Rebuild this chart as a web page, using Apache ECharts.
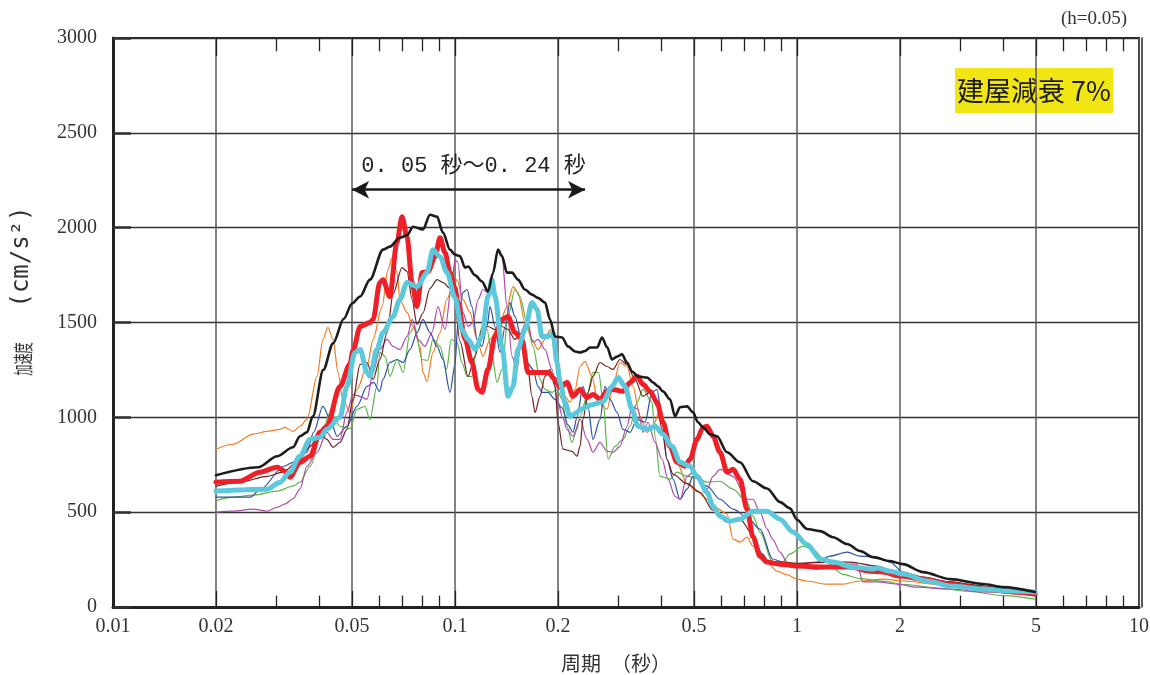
<!DOCTYPE html>
<html>
<head>
<meta charset="utf-8">
<script src="https://cdn.jsdelivr.net/npm/echarts@6/dist/echarts.min.js"></script>
<style>html,body{margin:0;padding:0;background:#fff}#c{width:1150px;height:675px}</style>
</head>
<body>
<div id="c"></div>
<script>
// ---- axis ticks / labels (period in seconds) ----
const gridPeriods = [0.02, 0.05, 0.2, 0.5, 2, 5];          // labelled gridlines between decades
const majorTicks  = [0.02, 0.05, 0.1, 0.2, 0.5, 1, 2, 5];
const minorTicks  = [0.03,0.04,0.06,0.07,0.08,0.09,0.3,0.4,0.6,0.7,0.8,0.9,3,4,6,7,8,9];
const yTicks = {min: 0, max: 3000, step: 500};
const bandFrom = 0.05, bandTo = 0.24, bandLevel = 2200;

// ---- spectra: [period (s), acceleration (cm/s2)] ----
const black = [[0.02,695],[0.0266,737],[0.0302,795],[0.0336,842],[0.0352,900],[0.0369,921],[0.0384,1005],[0.0412,1250],[0.0440,1390],[0.0473,1520],[0.0500,1600],[0.0528,1637],[0.0564,1726],[0.0616,1884],[0.0645,1900],[0.0690,1947],[0.0724,1960],[0.0754,2005],[0.0806,1990],[0.0845,2068],[0.0886,2058],[0.0922,1974],[0.0967,1884],[0.1000,1858],[0.1034,1850],[0.1070,1790],[0.1092,1795],[0.1144,1750],[0.1199,1716],[0.1249,1663],[0.1291,1760],[0.1336,1884],[0.1372,1850],[0.1419,1763],[0.1468,1763],[0.1528,1726],[0.1602,1674],[0.1679,1647],[0.1748,1630],[0.1833,1605],[0.1896,1516],[0.1961,1426],[0.2056,1421],[0.2140,1374],[0.2244,1347],[0.2321,1342],[0.2400,1350],[0.2482,1368],[0.2602,1368],[0.2691,1421],[0.2783,1370],[0.2879,1305],[0.2977,1320],[0.3078,1332],[0.3184,1289],[0.3293,1242],[0.3428,1216],[0.3642,1210],[0.3793,1184],[0.3923,1163],[0.4057,1137],[0.4253,1095],[0.4399,1005],[0.4550,1053],[0.4769,1058],[0.4966,1026],[0.5135,974],[0.5311,947],[0.5566,911],[0.5834,900],[0.6242,816],[0.6813,763],[0.7435,663],[0.8173,625],[0.8921,553],[0.9539,520],[1.0,460],[1.07,411],[1.168,400],[1.275,368],[1.401,332],[1.529,295],[1.668,263],[1.871,242],[2.041,226],[2.336,184],[2.802,147],[3.499,121],[4.002,105],[4.965,79]];

const red = [[0.02,658],[0.0235,663],[0.0269,711],[0.0302,737],[0.0318,716],[0.0329,684],[0.0352,763],[0.0377,795],[0.0403,921],[0.0422,953],[0.0461,1163],[0.0493,1280],[0.0503,1350],[0.0528,1479],[0.0564,1500],[0.0576,1516],[0.0603,1711],[0.0616,1726],[0.0645,1637],[0.0676,1921],[0.0700,2058],[0.0724,1950],[0.0749,1711],[0.0774,1584],[0.0801,1763],[0.0834,1768],[0.0874,1847],[0.0904,1947],[0.0935,1868],[0.0967,1763],[0.1000,1680],[0.1020,1605],[0.1070,1411],[0.1121,1289],[0.1168,1147],[0.1199,1132],[0.1249,1253],[0.1309,1426],[0.1372,1516],[0.1429,1532],[0.1497,1447],[0.1570,1411],[0.1635,1237],[0.1748,1237],[0.1871,1237],[0.1961,1200],[0.2028,1158],[0.2126,1184],[0.2213,1111],[0.2321,1147],[0.2432,1105],[0.2532,1121],[0.2654,1095],[0.2783,1137],[0.2897,1147],[0.3099,1137],[0.3249,1184],[0.3406,1216],[0.3546,1174],[0.3717,1137],[0.3896,1079],[0.4057,974],[0.4253,847],[0.4457,763],[0.4705,742],[0.4866,779],[0.5101,884],[0.5311,947],[0.5457,953],[0.5681,900],[0.5955,816],[0.6242,711],[0.6503,726],[0.6813,674],[0.7140,516],[0.7435,370],[0.7796,268],[0.8173,237],[0.8921,226],[1.0,216],[1.168,211],[1.43,211],[1.635,189],[1.784,184],[2.0,163],[2.336,147],[2.80,121],[3.5,95],[4.398,79],[4.965,68]];

const cyan = [[0.02,611],[0.0282,621],[0.0308,658],[0.0329,711],[0.0352,795],[0.0377,884],[0.0403,895],[0.0422,937],[0.0461,1000],[0.0483,1163],[0.0510,1342],[0.0528,1358],[0.0553,1237],[0.0564,1216],[0.0591,1358],[0.0616,1447],[0.0659,1532],[0.0690,1621],[0.0724,1711],[0.0775,1689],[0.0828,1763],[0.0862,1884],[0.0904,1847],[0.0948,1763],[0.1000,1630],[0.1048,1463],[0.1092,1411],[0.1144,1358],[0.1199,1426],[0.1249,1637],[0.1283,1726],[0.1309,1637],[0.1372,1374],[0.1429,1111],[0.1478,1163],[0.1528,1358],[0.1602,1463],[0.1679,1605],[0.1738,1568],[0.1797,1426],[0.1871,1426],[0.1934,1447],[0.1987,1289],[0.2028,1184],[0.2097,1079],[0.2168,1005],[0.2274,1026],[0.2321,1042],[0.2532,1068],[0.2708,1084],[0.2879,1163],[0.2997,1210],[0.3141,1163],[0.3293,1042],[0.3428,953],[0.3642,937],[0.3845,953],[0.4057,911],[0.4310,847],[0.4550,763],[0.4866,742],[0.5101,689],[0.5457,605],[0.5681,532],[0.5955,479],[0.6368,453],[0.6813,463],[0.7435,505],[0.8173,505],[0.8921,463],[0.9734,395],[1.07,330],[1.168,253],[1.275,237],[1.458,210],[1.668,200],[1.713,205],[1.871,189],[2.041,174],[2.40,137],[2.80,111],[3.5,95],[4.196,84],[4.965,79]];

const orange = [[0.02,832],[0.0224,858],[0.0257,911],[0.0282,926],[0.0308,937],[0.0318,947],[0.0336,926],[0.0352,953],[0.0369,989],[0.0395,1216],[0.0411,1411],[0.0425,1474],[0.0440,1411],[0.0455,1237],[0.0470,1095],[0.0493,1026],[0.0517,1147],[0.0553,1268],[0.0576,1411],[0.0612,1584],[0.0637,1780],[0.0655,1842],[0.0677,1763],[0.0690,1621],[0.0724,1553],[0.0754,1479],[0.0790,1374],[0.0806,1237],[0.0828,1189],[0.0862,1342],[0.0904,1447],[0.0945,1621],[0.0987,1689],[0.1014,1726],[0.1055,1621],[0.1106,1553],[0.1160,1411],[0.1207,1321],[0.1266,1411],[0.1354,1500],[0.1419,1584],[0.1478,1689],[0.1528,1658],[0.1602,1500],[0.1679,1411],[0.1748,1358],[0.1833,1411],[0.1896,1463],[0.1961,1342],[0.2028,1216],[0.2097,1111],[0.2168,1079],[0.2244,1147],[0.2321,1268],[0.2400,1295],[0.2515,1216],[0.2619,1079],[0.2783,1042],[0.2897,1163],[0.3035,1289],[0.3184,1268],[0.3315,1163],[0.3475,1005],[0.3642,921],[0.3793,953],[0.3976,1042],[0.4111,974],[0.4253,847],[0.4457,760],[0.4769,650],[0.5101,610],[0.5457,568],[0.5834,520],[0.6242,490],[0.6503,358],[0.6813,342],[0.7140,368],[0.7435,321],[0.7796,260],[0.8173,237],[0.8738,189],[0.935,170],[1.0,147],[1.07,137],[1.208,121],[1.363,121],[1.529,137],[1.784,147],[2.041,137],[2.567,121],[3.205,105],[4.0,84],[4.965,68]];

const green = [[0.02,560],[0.0224,579],[0.0257,590],[0.0302,611],[0.0336,637],[0.0352,658],[0.0377,742],[0.0411,937],[0.0432,1026],[0.0461,953],[0.0493,940],[0.0517,1042],[0.0545,1058],[0.0564,989],[0.0591,1163],[0.0603,1342],[0.0625,1321],[0.0645,1216],[0.0677,1305],[0.0705,1237],[0.0739,1447],[0.0762,1479],[0.0801,1305],[0.0832,1300],[0.0862,1411],[0.0904,1374],[0.0945,1253],[0.0975,1411],[0.1014,1395],[0.1048,1289],[0.1084,1216],[0.1121,1216],[0.1160,1374],[0.1199,1479],[0.1241,1463],[0.1283,1321],[0.1327,1184],[0.1372,1253],[0.1429,1532],[0.1497,1674],[0.1549,1637],[0.1623,1500],[0.1691,1374],[0.1772,1200],[0.1833,1147],[0.1921,1132],[0.1987,1147],[0.2056,1095],[0.2126,953],[0.2198,868],[0.2274,937],[0.2321,1005],[0.2432,1111],[0.2532,1237],[0.2630,1237],[0.2708,1095],[0.2802,779],[0.2937,847],[0.3099,884],[0.3249,953],[0.3406,1079],[0.3546,1147],[0.3767,1079],[0.3845,900],[0.3976,689],[0.4253,674],[0.4457,711],[0.4769,689],[0.5101,680],[0.5457,658],[0.5955,663],[0.6503,621],[0.7140,553],[0.7435,479],[0.7796,395],[0.8485,237],[0.9080,237],[0.9539,280],[1.04,321],[1.11,305],[1.22,237],[1.363,172],[1.529,150],[1.784,136],[2.041,120],[2.567,100],[3.205,82],[4.0,60],[4.965,42]];

const blue = [[0.02,579],[0.0252,579],[0.0270,621],[0.0316,742],[0.0336,763],[0.0369,816],[0.0386,921],[0.0411,1058],[0.0432,989],[0.0452,900],[0.0483,953],[0.0517,1058],[0.0553,1163],[0.0578,1184],[0.0602,1137],[0.0616,1200],[0.0645,1289],[0.0677,1305],[0.0705,1289],[0.0739,1358],[0.0775,1447],[0.0806,1516],[0.0845,1447],[0.0886,1374],[0.0922,1305],[0.0967,1132],[0.1000,1280],[0.1020,1500],[0.1055,1658],[0.1084,1674],[0.1121,1584],[0.1160,1411],[0.1199,1374],[0.1241,1479],[0.1266,1584],[0.1309,1479],[0.1354,1342],[0.1401,1479],[0.1448,1605],[0.1497,1532],[0.1570,1395],[0.1623,1289],[0.1691,1253],[0.1748,1163],[0.1797,1132],[0.1871,1132],[0.1961,1095],[0.2056,1050],[0.2140,960],[0.2213,921],[0.2274,1000],[0.2367,1163],[0.2448,1058],[0.2532,884],[0.2654,989],[0.2746,1163],[0.2840,1095],[0.2977,1026],[0.3099,937],[0.3249,921],[0.3406,989],[0.3593,974],[0.3767,1132],[0.3896,1147],[0.4030,989],[0.4168,779],[0.4340,674],[0.4550,568],[0.4769,621],[0.4966,689],[0.5457,637],[0.5955,568],[0.6503,516],[0.7140,474],[0.7796,411],[0.8485,253],[0.9080,237],[1.0,226],[1.144,237],[1.249,268],[1.401,289],[1.529,268],[1.713,263],[1.871,237],[2.041,184],[2.336,158],[2.80,132],[3.5,105],[4.398,84],[4.965,74]];

const magenta = [[0.02,500],[0.0224,505],[0.0257,516],[0.0282,505],[0.0302,526],[0.0318,542],[0.0336,570],[0.0352,621],[0.0369,742],[0.0395,816],[0.0422,921],[0.0440,884],[0.0461,884],[0.0483,1026],[0.0503,1120],[0.0528,1111],[0.0553,1095],[0.0576,1237],[0.0603,1358],[0.0633,1411],[0.0659,1374],[0.0690,1358],[0.0724,1426],[0.0751,1516],[0.0779,1411],[0.0817,1374],[0.0856,1447],[0.0892,1584],[0.0935,1463],[0.0980,1711],[0.1000,1832],[0.1020,1816],[0.1055,1553],[0.1092,1479],[0.1129,1500],[0.1168,1621],[0.1207,1674],[0.1249,1658],[0.1291,1763],[0.1336,1884],[0.1372,1847],[0.1419,1584],[0.1468,1321],[0.1518,1253],[0.1570,1463],[0.1623,1516],[0.1691,1395],[0.1748,1411],[0.1833,1358],[0.1921,1253],[0.2000,1079],[0.2063,1000],[0.2126,937],[0.2213,900],[0.2321,989],[0.2432,884],[0.2532,816],[0.2654,868],[0.2783,821],[0.2897,816],[0.3035,847],[0.3184,953],[0.3293,1058],[0.3428,1042],[0.3546,921],[0.3667,974],[0.3845,868],[0.4030,779],[0.4196,674],[0.4399,584],[0.4550,568],[0.4769,689],[0.4966,711],[0.5204,658],[0.5457,621],[0.5681,689],[0.5955,726],[0.6503,689],[0.7140,568],[0.7435,568],[0.7796,500],[0.8173,411],[0.8485,358],[0.8921,289],[0.935,237],[1.0,216],[1.144,200],[1.249,216],[1.363,226],[1.498,226],[1.560,132],[1.713,132],[1.961,121],[2.243,105],[2.80,95],[3.5,79],[4.965,58]];

const brown = [[0.02,637],[0.0235,658],[0.0282,689],[0.0314,711],[0.0352,779],[0.0377,847],[0.0403,921],[0.0422,884],[0.0440,842],[0.0461,868],[0.0483,937],[0.0503,1095],[0.0528,1279],[0.0553,1289],[0.0576,1200],[0.0603,1305],[0.0633,1447],[0.0659,1650],[0.0700,1789],[0.0724,1770],[0.0749,1621],[0.0774,1490],[0.0806,1550],[0.0845,1680],[0.0886,1726],[0.0922,1711],[0.0967,1680],[0.0987,1700],[0.1034,1400],[0.1092,1216],[0.1144,1321],[0.1199,1463],[0.1249,1479],[0.1309,1463],[0.1372,1479],[0.1429,1463],[0.1497,1411],[0.1570,1447],[0.1623,1305],[0.1679,1111],[0.1714,1026],[0.1772,1111],[0.1833,1216],[0.1896,1253],[0.1961,1163],[0.2000,974],[0.2069,832],[0.2198,821],[0.2274,795],[0.2321,847],[0.2367,989],[0.2448,1132],[0.2532,1216],[0.2654,1289],[0.2783,1268],[0.2897,1253],[0.3035,1305],[0.3184,1279],[0.3359,1200],[0.3546,1111],[0.3717,1132],[0.3896,1058],[0.4030,937],[0.4168,779],[0.4340,700],[0.4769,650],[0.5204,605],[0.5681,510],[0.6242,447],[0.6813,463],[0.7435,380],[0.7900,280],[0.8300,237],[0.8921,237],[1.0,230],[1.275,237],[1.43,237],[1.713,216],[1.961,184],[2.336,147],[2.80,132],[3.5,111],[4.398,84],[4.965,79]];

// ---- rendering ----
const serif = "'Liberation Serif', 'DejaVu Serif', serif";
const cjk = "'Noto Sans CJK JP', 'Noto Sans', sans-serif";
const tickFont = {fontFamily: serif, fontSize: 20, color: '#333'};

function spectrum(name, data, color, width, z) {
  return {
    name, type: 'line', data, z, symbol: 'none', showSymbol: false,
    smooth: 0.3, smoothMonotone: 'x', animation: false, silent: true,
    lineStyle: {color, width, join: 'round', cap: 'round'}, itemStyle: {color}
  };
}
function seg(t, y0, y1, label) {
  const a = {coord: [t, y0]};
  if (label !== undefined) a.name = label;
  return [a, {coord: [t, y1]}];
}

const helper = {
  type: 'line', data: [], clip: false, silent: true, animation: false, z: 1,
  markLine: {
    silent: true, symbol: 'none', animation: false,
    lineStyle: {type: 'solid', color: '#5a5a5a', width: 1.5},
    label: {show: true, position: 'start', distance: 10, formatter: '{b}', ...tickFont},
    data: gridPeriods.map(t => seg(t, yTicks.min, yTicks.max, String(t)))
  }
};
const ticks = {
  type: 'line', data: [], clip: false, silent: true, animation: false, z: 3,
  markLine: {
    silent: true, symbol: 'none', animation: false,
    label: {show: false},
    lineStyle: {type: 'solid', color: '#222', width: 1.3},
    data: [].concat(
      minorTicks.map(t => seg(t, yTicks.min, 60)),
      minorTicks.map(t => seg(t, yTicks.max, yTicks.max - 70)),
      majorTicks.map(t => seg(t, yTicks.min, 85)),
      majorTicks.map(t => seg(t, yTicks.max, yTicks.max - 95))
    )
  }
};
const arrow = {
  type: 'line', data: [], clip: false, silent: true, animation: false, z: 20,
  markLine: {
    silent: true, animation: false,
    symbol: ['arrow', 'arrow'], symbolSize: [13, 17],
    lineStyle: {type: 'solid', color: '#1a1a1a', width: 2.5},
    label: {show: true, position: 'insideMiddleTop', distance: 13, offset: [5, 0], formatter: '{b}',
            fontFamily: "'Liberation Mono', 'Noto Sans CJK JP', monospace", fontSize: 22, color: '#222'},
    data: [[{coord: [bandFrom, bandLevel], name: '0. 05 秒～0. 24 秒'}, {coord: [bandTo, bandLevel]}]]
  }
};

const chart = echarts.init(document.getElementById('c'), null, {renderer: 'canvas'});
chart.setOption({
  backgroundColor: '#fff',
  animation: false,
  grid: {left: 113, right: 11, top: 38, bottom: 68, containLabel: false, outerBoundsMode: 'none',
         show: true, borderColor: '#222', borderWidth: 2, backgroundColor: 'transparent'},
  xAxis: {
    type: 'log', logBase: 10, min: 0.01, max: 10,
    axisLine: {show: true, onZero: false, lineStyle: {color: '#222', width: 3}},
    axisTick: {show: false},
    axisLabel: {margin: 10, formatter: v => String(Number(Number(v).toPrecision(2))), ...tickFont},
    splitLine: {show: true, lineStyle: {color: '#5a5a5a', width: 1.5}},
    minorTick: {show: false}, minorSplitLine: {show: false}
  },
  yAxis: [{
    type: 'value', min: yTicks.min, max: yTicks.max, interval: yTicks.step,
    axisLine: {show: true, lineStyle: {color: '#222', width: 3}},
    axisTick: {show: true, inside: true, length: 18, lineStyle: {color: '#333', width: 2.5}},
    axisLabel: {margin: 16, formatter: v => String(v), ...tickFont},
    splitLine: {show: true, lineStyle: {color: '#333', width: 1.3}}
  }, {
    type: 'value', position: 'right', offset: 3, min: 0, max: 1,
    axisLine: {show: true, lineStyle: {color: '#222', width: 1.5}},
    axisTick: {show: false}, axisLabel: {show: false}, splitLine: {show: false}
  }],
  series: [
    helper, ticks, arrow,
    spectrum('orange', orange, '#f47b20', 1.2, 5),
    spectrum('green', green, '#5ab646', 1.2, 5),
    spectrum('blue', blue, '#2c4fa6', 1.2, 5),
    spectrum('magenta', magenta, '#b04aaa', 1.2, 5),
    spectrum('brown', brown, '#6e1f1f', 1.2, 5),
    spectrum('red', red, '#ee1f26', 5, 6),
    spectrum('cyan', cyan, '#5cc8dc', 5, 7),
    spectrum('black', black, '#1c1c1c', 2.6, 8)
  ],
  graphic: [
    {type: 'text', x: 1127, y: 19, silent: true,
     style: {text: '(h=0.05)', fontFamily: serif, fontSize: 19, fill: '#333', align: 'right', verticalAlign: 'middle'}},
    {type: 'rect', shape: {x: 955, y: 68, width: 158, height: 45}, silent: true, style: {fill: '#f1e614'}},
    {type: 'text', x: 1034, y: 91, silent: true,
     style: {text: '建屋減衰 7%', fontFamily: cjk, fontSize: 27, fill: '#1a1a1a', align: 'center', verticalAlign: 'middle'}},
    {type: 'text', x: 23, y: 359, rotation: Math.PI / 2, scaleX: 0.56, silent: true,
     style: {text: '加速度', fontFamily: cjk, fontSize: 20, fill: '#333', align: 'center', verticalAlign: 'middle'}},
    {type: 'text', x: 22, y: 257, rotation: Math.PI / 2, silent: true,
     style: {text: '(cm/s²)', fontFamily: "'DejaVu Sans Mono', monospace", fontSize: 24, fill: '#333', align: 'center', verticalAlign: 'middle'}},
    {type: 'text', x: 616, y: 663, silent: true,
     style: {text: '周期　（秒）', fontFamily: cjk, fontSize: 20, fill: '#333', align: 'center', verticalAlign: 'middle'}}
  ]
});
</script>
</body>
</html>
